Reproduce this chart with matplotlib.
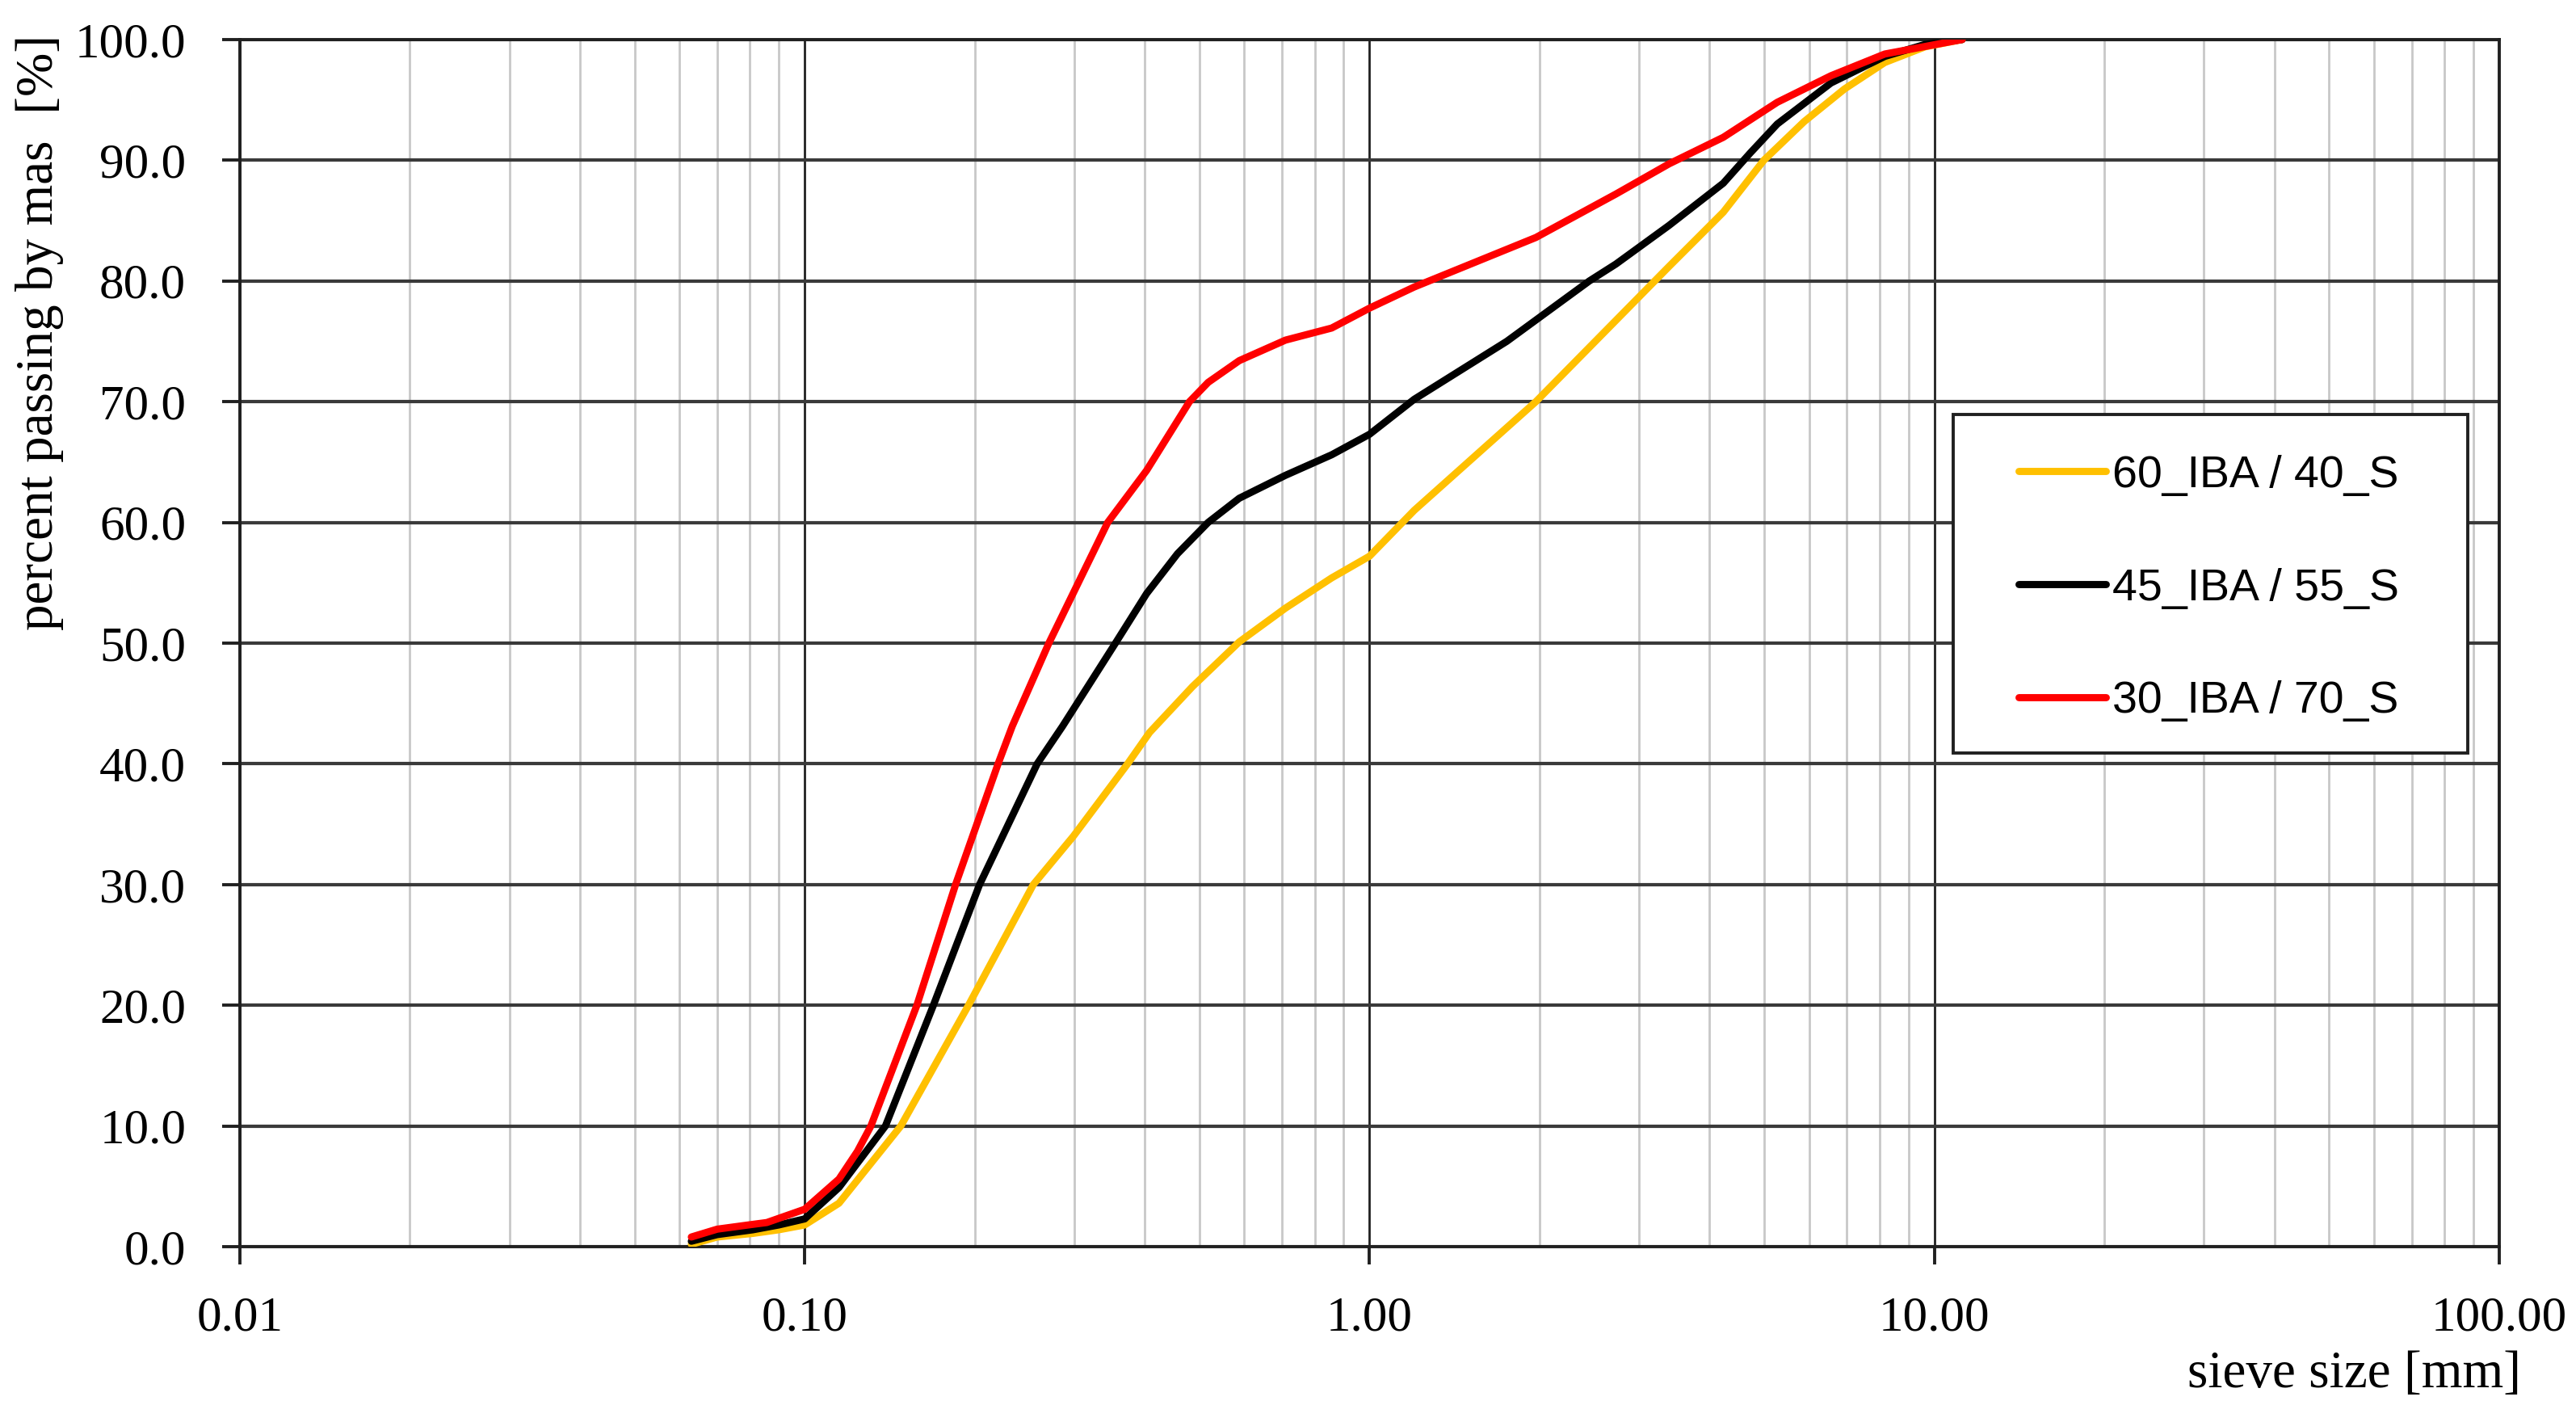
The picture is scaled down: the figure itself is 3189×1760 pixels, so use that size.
import matplotlib
matplotlib.use("Agg")
import matplotlib.pyplot as plt
from matplotlib.patches import Rectangle
from matplotlib.ticker import FixedLocator, FixedFormatter, LogLocator, NullFormatter, MultipleLocator, FormatStrFormatter

# sieve size [mm] and percent passing
size_60 = [0.063, 0.07, 0.081, 0.09, 0.10, 0.115, 0.148, 0.195, 0.254, 0.299, 0.373, 0.408, 0.486,
           0.588, 0.71, 0.857, 1.0, 1.2, 1.97, 3.39, 4.23, 4.99, 5.88, 6.93, 8.17, 9.63, 11.2]
pass_60 = [0.2, 0.8, 1.1, 1.4, 1.8, 3.6, 10.0, 20.0, 30.0, 34.0, 40.0, 42.6, 46.4,
           50.1, 52.9, 55.4, 57.2, 61.0, 70.0, 81.2, 85.7, 90.0, 93.2, 95.9, 98.1, 99.4, 100.0]

size_45 = [0.063, 0.07, 0.081, 0.09, 0.10, 0.115, 0.139, 0.169, 0.204, 0.258, 0.286, 0.355, 0.403,
           0.457, 0.518, 0.588, 0.71, 0.857, 1.0, 1.2, 1.75, 2.45, 2.73, 3.39, 4.23, 4.72, 5.27,
           6.56, 8.17, 9.63, 11.2]
pass_45 = [0.45, 1.0, 1.4, 1.8, 2.3, 4.9, 10.0, 20.0, 30.0, 40.0, 43.1, 50.0, 54.1,
           57.4, 60.0, 62.0, 63.9, 65.6, 67.3, 70.2, 75.0, 80.0, 81.4, 84.6, 88.1, 90.6, 93.0,
           96.4, 98.6, 99.6, 100.0]

size_30 = [0.063, 0.07, 0.081, 0.0857, 0.10, 0.115, 0.124, 0.131, 0.158, 0.185, 0.22, 0.233, 0.2706,
           0.344, 0.403, 0.48, 0.518, 0.588, 0.71, 0.857, 1.0, 1.2, 1.97, 2.73, 3.39, 4.23, 5.27,
           6.56, 8.17, 11.2]
pass_30 = [0.8, 1.45, 1.85, 2.0, 3.1, 5.6, 7.9, 10.0, 20.0, 30.0, 40.0, 43.1, 50.0,
           60.0, 64.3, 70.0, 71.6, 73.4, 75.1, 76.1, 77.75, 79.5, 83.6, 87.2, 89.7, 91.9, 94.8,
           97.0, 98.8, 100.0]

labels = ['60_IBA / 40_S', '45_IBA / 55_S', '30_IBA / 70_S']
colors = ['#FFC000', 'black', '#FF0000']

x_ticks = [0.01, 0.1, 1, 10, 100]
x_tick_labels = ['0.01', '0.10', '1.00', '10.00', '100.00']

serif = 'Liberation Serif'

fig = plt.figure(figsize=(15.945, 8.8), dpi=200)
ax = fig.add_axes([0.0931, 0.1233, 0.8771, 0.8489])

for sx, sy, lab, col in zip([size_60, size_45, size_30], [pass_60, pass_45, pass_30], labels, colors):
    ax.plot(sx, sy, color=col, lw=3.2, label=lab, solid_joinstyle='round', solid_capstyle='round', zorder=5)

ax.set_xscale('log')
ax.set_xlim(0.01, 100)
ax.set_ylim(0, 100)

ax.xaxis.set_major_locator(FixedLocator(x_ticks))
ax.xaxis.set_major_formatter(FixedFormatter(x_tick_labels))
ax.xaxis.set_minor_locator(LogLocator(base=10, subs=range(2, 10)))
ax.xaxis.set_minor_formatter(NullFormatter())
ax.yaxis.set_major_locator(MultipleLocator(10))
ax.yaxis.set_major_formatter(FormatStrFormatter('%.1f'))

# gridlines
ax.grid(which='minor', axis='x', color='#c8c8c8', lw=1.0, zorder=1)
ax.grid(which='major', axis='x', color='#202020', lw=1.0, zorder=2)
ax.grid(which='major', axis='y', color='#3a3a3a', lw=1.5, zorder=2)
ax.set_axisbelow(True)

for sp in ax.spines.values():
    sp.set_color('#202020')
    sp.set_linewidth(1.4)

ax.tick_params(axis='both', which='major', direction='out', length=8, width=1.4, color='#202020',
               labelsize=22)
ax.tick_params(axis='x', which='major', pad=14)
ax.tick_params(axis='y', which='major', pad=16)
ax.tick_params(axis='x', which='minor', length=0)
for t in ax.get_xticklabels() + ax.get_yticklabels():
    t.set_fontfamily(serif)

ax.set_xlabel('sieve size [mm]', fontsize=23.5, family=serif, loc='right')
ax.xaxis.set_label_coords(1.0097, -0.086)
ax.set_ylabel('percent passing by mas  [%]', fontsize=23.5, family=serif, loc='top')
ax.yaxis.set_label_coords(-0.078, 1.004)

# legend box drawn as a plain rectangle, entries placed inside it
ax.add_patch(Rectangle((0.7583, 0.409), 0.2278, 0.2804, transform=ax.transAxes, facecolor='white',
                       edgecolor='#202020', lw=1.4, zorder=9))
leg = ax.legend(loc='upper left', bbox_to_anchor=(0.7873, 0.656), borderaxespad=0, borderpad=0,
                prop={'family': 'Liberation Sans', 'size': 20}, frameon=False,
                handlelength=1.94, handletextpad=0.15, labelspacing=1.58)
leg.set_zorder(10)

fig.savefig('out.png', dpi=200, facecolor='white')
